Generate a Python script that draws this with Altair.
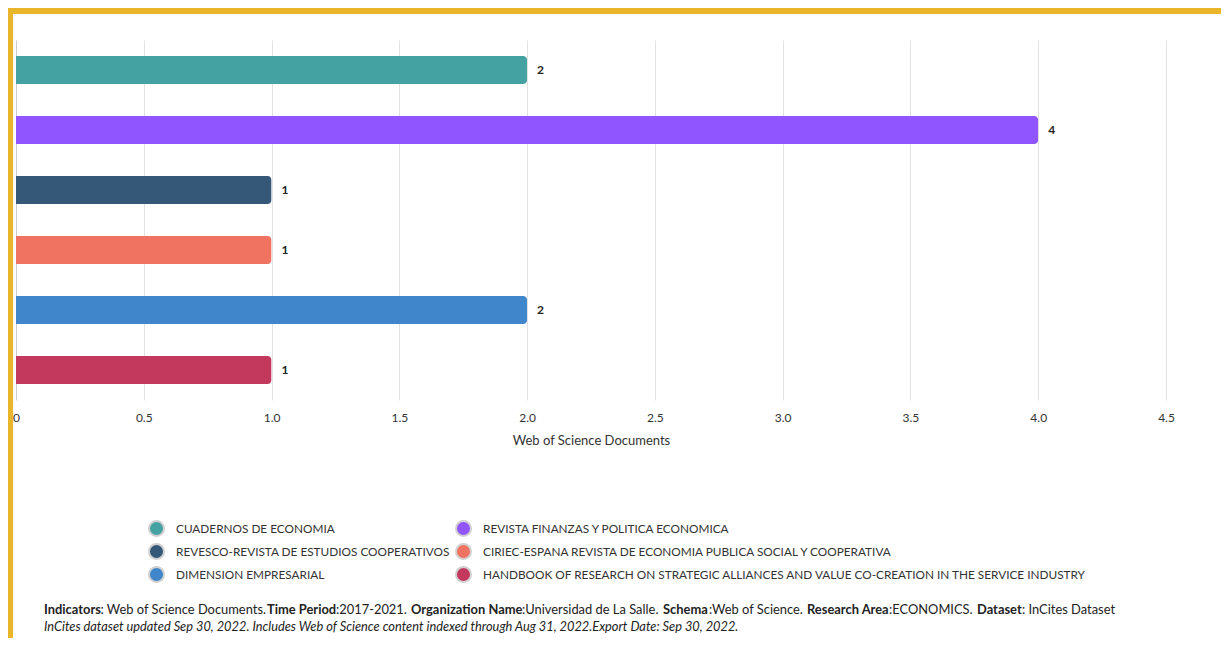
import altair as alt
import pandas as pd

# ---- data ----
journals = [
    "CUADERNOS DE ECONOMIA",
    "REVISTA FINANZAS Y POLITICA ECONOMICA",
    "REVESCO-REVISTA DE ESTUDIOS COOPERATIVOS",
    "CIRIEC-ESPANA REVISTA DE ECONOMIA PUBLICA SOCIAL Y COOPERATIVA",
    "DIMENSION EMPRESARIAL",
    "HANDBOOK OF RESEARCH ON STRATEGIC ALLIANCES AND VALUE CO-CREATION IN THE SERVICE INDUSTRY",
]
docs = [2, 4, 1, 1, 2, 1]
colors = ["#45A2A2", "#9055FF", "#365878", "#F07261", "#3F86CB", "#C3395E"]
x_ticks = [0, 0.5, 1.0, 1.5, 2.0, 2.5, 3.0, 3.5, 4.0, 4.5]
x_title = "Web of Science Documents"

footer_segments = [
    "Indicators", ": Web of Science Documents.", "Time Period", ":2017-2021. ",
    "Organization Name", ":Universidad de La Salle. ", "Schema", ":Web of Science. ",
    "Research Area", ":ECONOMICS. ", "Dataset", ": InCites Dataset",
]
footer_bold = [True, False, True, False, True, False, True, False, True, False, True, False]
footer_line2 = ("InCites dataset updated Sep 30, 2022. Includes Web of Science content "
                "indexed through Aug 31, 2022.Export Date: Sep 30, 2022.")

# ---- layout (pixels, relative to plot origin) ----
footer_x = [28, 84.5, 251, 320, 395, 506, 647, 693, 791, 873, 961, 1006]
footer_y1 = 570
footer_y2 = 587
FONT = "Lato"

df = pd.DataFrame({"journal": journals, "docs": docs})

y_enc = alt.Y("journal:N", sort=journals, axis=None,
              scale=alt.Scale(paddingInner=0, paddingOuter=0))
x_enc = alt.X(
    "docs:Q",
    scale=alt.Scale(domain=[0, 4.5], nice=False),
    axis=alt.Axis(
        values=x_ticks,
        labelExpr="datum.value == 0 ? '0' : format(datum.value, '.1f')",
        grid=True,
        gridColor={"condition": {"test": "datum.value === 0", "value": "#cccccc"}, "value": "#e2e2e2"},
        ticks=False,
        domain=False,
        labelFlush=False,
        labelPadding=12,
        labelFontSize=12,
        labelColor="#333333",
        labelFont=FONT,
        title=x_title,
        titleFont=FONT,
        titleFontSize=13,
        titleFontWeight="normal",
        titleColor="#333333",
        titlePadding=11,
    ),
)

bars = alt.Chart(df).mark_bar(size=28, cornerRadiusEnd=4).encode(
    x=x_enc,
    y=y_enc,
    color=alt.Color(
        "journal:N",
        scale=alt.Scale(domain=journals, range=colors),
        legend=alt.Legend(
            orient="none", legendX=132, legendY=480, columns=2, direction="horizontal",
            title=None,
            symbolType="circle", symbolSize=225, symbolStrokeColor="#d0d0d0",
            symbolStrokeWidth=2, symbolOpacity=1,
            labelFont=FONT, labelFontSize=11.8, labelColor="#333333",
            labelLimit=1000, rowPadding=0, columnPadding=2, labelOffset=11,
            padding=0,
        ),
    ),
)

labels = alt.Chart(df).mark_text(
    align="left", baseline="middle", dx=10, fontWeight="bold", fontSize=12,
    font=FONT, color="#222222"
).encode(x="docs:Q", y=y_enc, text="docs:Q")

one = alt.InlineData(values=[{"k": 1}])
top_strip = alt.Chart(one).mark_rect(color="#E9B52A").encode(
    x=alt.value(-8), x2=alt.value(1205), y=alt.value(-32), y2=alt.value(-26))
left_strip = alt.Chart(one).mark_rect(color="#E9B52A").encode(
    x=alt.value(-8), x2=alt.value(-3), y=alt.value(-32), y2=alt.value(600))

layers = [top_strip, left_strip, bars, labels]
for seg, bold, px in zip(footer_segments, footer_bold, footer_x):
    layers.append(
        alt.Chart(alt.InlineData(values=[{"t": seg}])).mark_text(
            align="left", baseline="middle", font=FONT, fontSize=12.9,
            fontWeight="bold" if bold else "normal", color="#222222"
        ).encode(x=alt.value(px), y=alt.value(footer_y1), text="t:N")
    )
layers.append(
    alt.Chart(alt.InlineData(values=[{"t": footer_line2}])).mark_text(
        align="left", baseline="middle", font=FONT, fontSize=12.8,
        fontStyle="italic", color="#222222"
    ).encode(x=alt.value(28), y=alt.value(footer_y2), text="t:N")
)

chart = alt.layer(*layers).properties(
    width=1150, height=360,
    autosize=alt.AutoSizeParams(type="none"),
    padding={"left": 8, "top": 32, "right": 55, "bottom": 238},
    background="white",
).configure_view(stroke=None)

chart.save("out.html", embed_options={"renderer": "svg", "actions": False})
